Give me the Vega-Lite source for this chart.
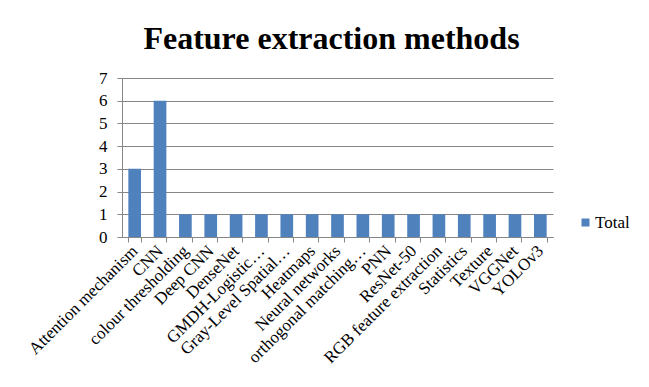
{
  "$schema": "https://vega.github.io/schema/vega-lite/v6.json",
  "autosize": {"type": "none"},
  "width": 431,
  "height": 159,
  "padding": {"left": 122, "top": 78, "right": 96, "bottom": 150},
  "background": "white",
  "title": {
    "text": "Feature extraction methods",
    "font": "Liberation Serif",
    "fontSize": 32,
    "fontWeight": "bold",
    "color": "black",
    "anchor": "middle",
    "dx": -6,
    "offset": 13
  },
  "data": {
    "values": [
      {"method": "Attention mechanism", "count": 3, "series": "Total"},
      {"method": "CNN", "count": 6, "series": "Total"},
      {"method": "colour thresholding", "count": 1, "series": "Total"},
      {"method": "Deep CNN", "count": 1, "series": "Total"},
      {"method": "DenseNet", "count": 1, "series": "Total"},
      {"method": "GMDH-Logistic…", "count": 1, "series": "Total"},
      {"method": "Gray-Level Spatial…", "count": 1, "series": "Total"},
      {"method": "Heatmaps", "count": 1, "series": "Total"},
      {"method": "Neural networks", "count": 1, "series": "Total"},
      {"method": "orthogonal matching…", "count": 1, "series": "Total"},
      {"method": "PNN", "count": 1, "series": "Total"},
      {"method": "ResNet-50", "count": 1, "series": "Total"},
      {"method": "RGB feature extraction", "count": 1, "series": "Total"},
      {"method": "Statistics", "count": 1, "series": "Total"},
      {"method": "Texture", "count": 1, "series": "Total"},
      {"method": "VGGNet", "count": 1, "series": "Total"},
      {"method": "YOLOv3", "count": 1, "series": "Total"}
    ]
  },
  "mark": {"type": "bar"},
  "encoding": {
    "x": {
      "field": "method",
      "type": "nominal",
      "sort": null,
      "scale": {"paddingInner": 0.5, "paddingOuter": 0.25},
      "axis": {
        "title": null,
        "labelAngle": -45,
        "labelAlign": "right",
        "labelBaseline": "middle",
        "labelFontSize": 17,
        "labelColor": "black",
        "labelPadding": 6,
        "labelOverlap": false,
        "labelLimit": 300,
        "tickBand": "extent",
        "tickColor": "#868686",
        "tickSize": 5,
        "domainColor": "#868686",
        "grid": false
      }
    },
    "y": {
      "field": "count",
      "type": "quantitative",
      "scale": {"domain": [0, 7], "nice": false},
      "axis": {
        "title": null,
        "values": [0, 1, 2, 3, 4, 5, 6, 7],
        "labelFontSize": 17,
        "labelColor": "black",
        "labelPadding": 10,
        "tickColor": "#868686",
        "tickSize": 5,
        "domainColor": "#868686",
        "gridColor": "#868686",
        "gridWidth": 1
      }
    },
    "color": {
      "field": "series",
      "type": "nominal",
      "scale": {"range": ["#4F81BD"]},
      "legend": {
        "title": null,
        "orient": "none",
        "legendX": 455,
        "legendY": 136,
        "symbolType": "square",
        "symbolSize": 64,
        "symbolStrokeWidth": 0,
        "labelFontSize": 17,
        "labelColor": "black",
        "labelOffset": 1
      }
    }
  },
  "config": {
    "font": "Liberation Serif",
    "view": {"stroke": null},
    "axis": {"labelFont": "Liberation Serif"},
    "legend": {"labelFont": "Liberation Serif"}
  }
}
